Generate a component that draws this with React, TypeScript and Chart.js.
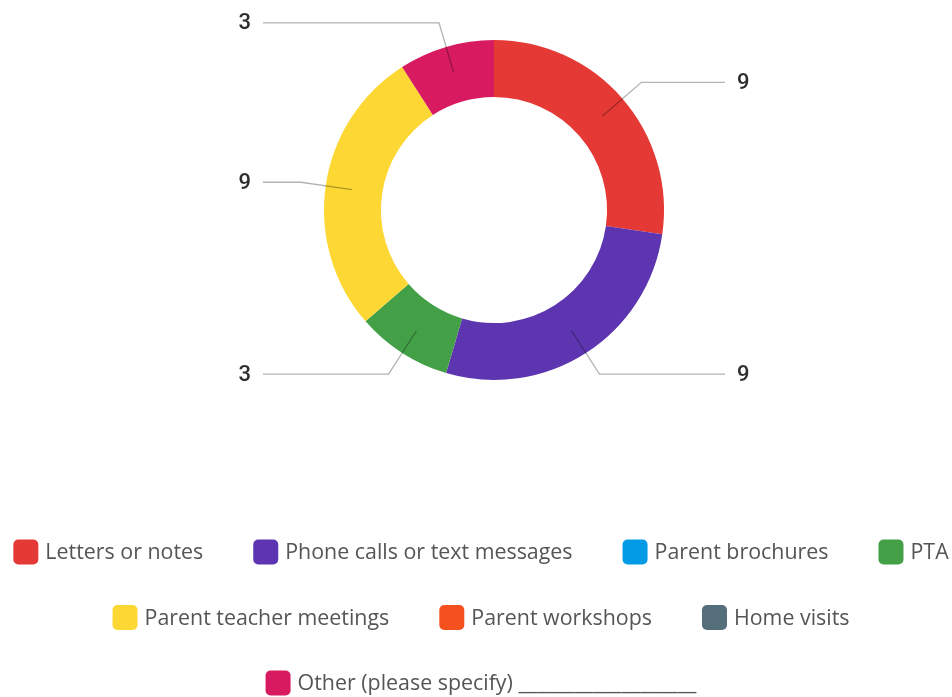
import React, { useEffect, useRef } from "react";
import { Chart, registerables } from "chart.js";

Chart.register(...registerables);

const categories = [
  "Letters or notes",
  "Phone calls or text messages",
  "Parent brochures",
  "PTA",
  "Parent teacher meetings",
  "Parent workshops",
  "Home visits",
  "Other (please specify) ___________________",
];
const values = [9, 9, 0, 3, 9, 0, 0, 3];
const colors = [
  "#E53935",
  "#5E35B1",
  "#039BE5",
  "#43A047",
  "#FDD835",
  "#F4511E",
  "#546E7A",
  "#D81B60",
];
const legendRows = [[0, 1, 2, 3], [4, 5, 6], [7]];

const W = 952;
const H = 697;

const calloutPlugin = {
  id: "callouts",
  afterDatasetsDraw(chart: any) {
    const ctx = chart.ctx;
    const meta = chart.getDatasetMeta(0);
    ctx.save();
    meta.data.forEach((arc: any, i: number) => {
      const v = values[i];
      if (!v) return;
      const p = arc.getProps(["x", "y", "startAngle", "endAngle", "innerRadius", "outerRadius"], true);
      const mid = (p.startAngle + p.endAngle) / 2;
      const c = Math.cos(mid);
      const s = Math.sin(mid);
      const rIn = (p.innerRadius + p.outerRadius) / 2 + 2;
      const rEl = p.outerRadius + 25;
      const x0 = p.x + c * rIn;
      const y0 = p.y + s * rIn;
      const x1 = p.x + c * rEl;
      const y1 = p.y + s * rEl;
      const right = c >= 0;
      const x2 = right ? p.x + p.outerRadius + 61 : p.x - p.outerRadius - 61;
      ctx.beginPath();
      ctx.strokeStyle = "rgba(0,0,0,0.3)";
      ctx.lineWidth = 1.3;
      ctx.moveTo(x0, y0);
      ctx.lineTo(x1, y1);
      ctx.lineTo(x2, y1);
      ctx.stroke();
      ctx.fillStyle = "#2e2e2e";
      ctx.font = "500 22px Roboto";
      ctx.textBaseline = "middle";
      ctx.textAlign = right ? "left" : "right";
      ctx.fillText(String(v), right ? x2 + 12 : x2 - 12, y1 + 1);
    });
    ctx.restore();
  },
};

const legendPlugin = {
  id: "customLegend",
  afterDraw(chart: any) {
    const ctx = chart.ctx;
    const box = 25;
    const gapText = 7;
    const gapItem = 50;
    const centerX = 481;
    ctx.save();
    ctx.font = "21.4px 'Open Sans'";
    ctx.textBaseline = "middle";
    ctx.textAlign = "left";
    legendRows.forEach((row, ri) => {
      const y = chart.chartArea.bottom + 172 + ri * 65.5;
      const widths = row.map((idx) => box + gapText + ctx.measureText(categories[idx]).width);
      const total = widths.reduce((a, b) => a + b, 0) + gapItem * (row.length - 1);
      let x = centerX - total / 2;
      row.forEach((idx, k) => {
        ctx.fillStyle = colors[idx];
        ctx.beginPath();
        (ctx as any).roundRect(x, y - box / 2, box, box, 5);
        ctx.fill();
        ctx.fillStyle = "#555555";
        ctx.fillText(categories[idx], x + box + gapText, y + 1);
        x += widths[k] + gapItem;
      });
    });
    ctx.restore();
  },
};

export default function App() {
  const ref = useRef<HTMLCanvasElement>(null);
  useEffect(() => {
    if (!ref.current) return;
    const chart = new Chart(ref.current, {
      type: "doughnut",
      data: {
        labels: categories,
        datasets: [
          {
            data: values,
            backgroundColor: colors,
            borderWidth: 0,
          },
        ],
      },
      options: {
        responsive: false,
        animation: false,
        cutout: "66.5%",
        layout: { padding: { top: 40, bottom: H - 380, left: 36, right: 0 } },
        plugins: {
          legend: { display: false },
          tooltip: { enabled: false },
        },
      },
      plugins: [calloutPlugin, legendPlugin],
    });
    return () => chart.destroy();
  }, []);
  return (
    <div style={{ position: "fixed", left: 0, top: 0, width: W, height: H, background: "#fff" }}>
      <canvas ref={ref} width={W} height={H} style={{ width: W, height: H, display: "block" }} />
    </div>
  );
}
